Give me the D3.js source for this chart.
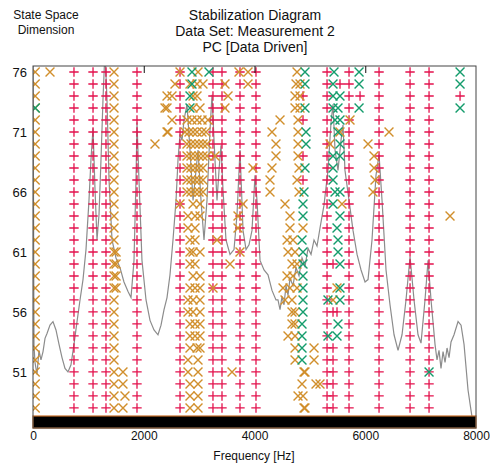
<!DOCTYPE html>
<html>
<head>
<meta charset="utf-8">
<script src="https://cdn.jsdelivr.net/npm/d3@7"></script>
<style>
  body { margin: 0; background: #fff; }
  text { font-family: "Liberation Sans", Arial, sans-serif; fill: #111; }
</style>
</head>
<body>
<div id="chart"></div>
<script>
// model orders shown on the y axis
var orders = [48, 49, 50, 51, 52, 53, 54, 55, 56, 57, 58, 59, 60, 61, 62,
	63, 64, 65, 66, 67, 68, 69, 70, 71, 72, 73, 74, 75, 76]

var xTicks = [0, 2000, 4000, 6000, 8000]
var yTicks = [51, 56, 61, 66, 71, 76]

// frequencies (Hz) where a stable pole (+) shows up at every order
var stableFreqs = [740, 1084, 1318, 1878, 2655, 3250, 3413, 3738, 4027,
	5310, 5707, 6249, 6809, 7152]

// extra stable poles [order, freq]
var extraStable = [
	[48, 5418], [49, 5418], [50, 5418], [51, 5418], [52, 5418], [53, 5418],
	[56, 5418], [56, 5490], [60, 5418], [75, 5544], [74, 5906], [74, 7712],
	[74, 4876], [72, 4876], [69, 4876], [67, 4876]
]

// frequencies where an unstable pole (x, orange) shows up at every order
var unstableFreqs = [40, 1463]

// unstable poles by order [order, [freqs]]
var unstableRows = [
	[76, [307, 2655, 2980, 3720, 3883, 4768]],
	[75, [2564, 2835, 2962, 3070, 3467, 3883, 4750, 4822]],
	[74, [2420, 2510, 2890, 2962, 3522, 4732, 4822]],
	[73, [2384, 2420, 2890, 3016, 3467, 4732, 4822]],
	[72, [2510, 2781, 2871, 2962, 3052, 3160, 4461, 4786, 5725]],
	[71, [2420, 2438, 2745, 2817, 2890, 2962, 3052, 3124, 4316, 4786, 5544, 6429]],
	[70, [2203, 2781, 2853, 2926, 2998, 3070, 3142, 4388, 4786, 5364, 6050]],
	[69, [2781, 2853, 2926, 2998, 3070, 3142, 3287, 4388, 4786, 6158]],
	[68, [2781, 2853, 2926, 2998, 3070, 3973, 4316, 4804, 6158]],
	[67, [2781, 2853, 2926, 2998, 3070, 4280, 4768, 6176]],
	[66, [2781, 2853, 2926, 2998, 3070, 4280, 4804, 6140]],
	[65, [2655, 2890, 3016, 3793, 4551, 5580]],
	[64, [2799, 2926, 3016, 3702, 4641, 7531]],
	[63, [2799, 2926, 3702, 4641, 4876]],
	[62, [2835, 2926, 3323, 4588, 4695]],
	[61, [1500, 2835, 2890, 3016, 3738, 4605, 4732]],
	[60, [1500, 2835, 2926, 3558, 4677, 4768]],
	[59, [1500, 2890, 3016, 4587, 4695]],
	[58, [1500, 2835, 2926, 3016, 3251, 4515, 4641, 4768, 5490]],
	[57, [2799, 2890, 3016, 4551, 4677, 5418]],
	[56, [2799, 2890, 3016, 4677, 4732]],
	[55, [2835, 2926, 3016, 4677, 4732]],
	[54, [2835, 2926, 3016, 4605, 4732]],
	[53, [2835, 2962, 3016, 4732, 5075]],
	[52, [2799, 2980, 4732, 5075]],
	[51, [1625, 2799, 2980, 3594, 4894, 4912]],
	[50, [1625, 2835, 2980, 4858, 5111, 5183]],
	[49, [1661, 2835, 2980, 4786, 4876]],
	[48, [1625, 2835, 2980, 4894, 4912]]
]

// poles stable in frequency and damping (x, green)
var dampedRows = [
	[76, [2871, 3178, 4912, 5436, 5888, 7712]],
	[75, [2871, 4912, 5418, 5888, 7712]],
	[74, [2835, 5418, 5544]],
	[73, [40, 2835, 4912, 5418, 5508, 5888, 7712]],
	[72, [5454, 5544]],
	[71, [4930, 5508]],
	[70, [4930, 5544]],
	[69, [5418, 5544]],
	[68, [4912, 5418]],
	[67, [5418]],
	[66, [4894, 5454, 5544]],
	[65, [4876, 5418]],
	[64, [4876, 5544]],
	[63, [5490]],
	[62, [4858, 5508]],
	[61, [4876, 5508]],
	[60, [4876, 5544]],
	[59, [4876]],
	[58, [4876, 5544]],
	[57, [4876, 5327, 5544]],
	[56, [4876]],
	[55, [4858, 5508]],
	[54, [4858, 5327, 5490]],
	[53, [4858]],
	[52, [4858]],
	[51, [7152]]
]

// averaged spectrum, frequency (Hz) and level on the order scale
var specFreq = [0, 18, 36, 72, 108, 144, 181, 217, 253, 307, 361, 415, 470, 524, 578,
	632, 686, 740, 795, 849, 903, 957, 1011, 1047, 1084, 1120, 1156, 1192, 1228,
	1264, 1300, 1336, 1373, 1427, 1499, 1571, 1643, 1716, 1770, 1824, 1860, 1878,
	1914, 1968, 2041, 2113, 2185, 2257, 2312, 2366, 2420, 2474, 2528, 2583, 2619,
	2655, 2691, 2727, 2781, 2835, 2890, 2944, 2980, 3034, 3088, 3142, 3197, 3233,
	3269, 3323, 3359, 3395, 3431, 3485, 3558, 3630, 3684, 3738, 3793, 3847, 3901,
	3955, 4009, 4045, 4100, 4172, 4244, 4316, 4388, 4424, 4461, 4497, 4533, 4569,
	4605, 4641, 4695, 4750, 4804, 4858, 4912, 4967, 5021, 5075, 5129, 5183, 5255,
	5327, 5382, 5418, 5454, 5508, 5562, 5598,
	5634, 5707, 5779, 5852, 5924, 5996, 6050, 6122, 6194, 6249, 6303, 6375, 6447,
	6520, 6592, 6664, 6736, 6809, 6881, 6953, 7007, 7079, 7134, 7188, 7260, 7296,
	7332, 7368, 7405, 7441, 7477, 7513, 7549, 7603, 7676, 7730, 7784, 7856, 7910, 7964]
var specLevel = [78.0, 53.2, 51.8, 50.8, 52.8, 52.0, 52.7, 53.8, 54.2, 54.9, 55.2, 54.5,
	53.3, 52.2, 51.3, 51.0, 51.6, 53.3, 55.2, 57.0, 58.7, 61.2, 65.3, 68.7, 71.3,
	66.2, 62.0, 64.1, 68.7, 73.7, 77.8, 73.7, 67.0, 62.0, 60.5, 59.7, 58.5, 57.7,
	57.2, 60.3, 67.0, 71.8, 67.0, 60.3, 57.0, 55.3, 54.5, 54.1, 54.9, 56.2, 57.2,
	59.1, 62.0, 65.3, 68.7, 70.8, 70.3, 72.0, 73.3, 69.5, 65.3, 67.8, 69.5, 65.3,
	62.0, 65.3, 71.2, 74.1, 70.3, 65.3, 67.8, 69.9, 66.2, 62.0, 60.8, 61.2, 64.1,
	69.5, 62.8, 61.2, 61.6, 62.8, 67.4, 65.3, 60.3, 59.5, 59.1, 57.8, 57.0, 57.0,
	56.2, 57.3, 56.6, 58.2, 57.4, 58.8, 58.2, 59.7, 59.0, 60.5, 59.8, 61.3, 60.8,
	62.0, 61.5, 63.0, 64.9, 67.8, 71.8, 73.3,
	69.5, 67.8, 70.3, 71.6, 67.8, 65.3, 62.8, 60.8, 59.5, 58.5, 58.7, 62.0, 67.4,
	69.1, 65.3, 59.5, 56.6, 54.1, 52.8, 54.1, 57.0, 60.6, 57.0, 54.1, 53.4, 57.0,
	60.3, 57.0, 53.3, 52.0, 52.8, 51.3, 52.7, 51.8, 53.0, 52.2, 53.5, 54.1, 55.2,
	54.9, 53.3, 49.5, 47.8, 46.2]

function drawChart() {
	var width = 490,
		height = 466
	var pLeft = 33, pRight = 476, pTop = 66, pBottom = 428

	var svg = d3.select('#chart').append('svg')
		.attr('width', width)
		.attr('height', height)

	var x = d3.scaleLinear()
		.domain([0, 8000])
		.range([pLeft, pRight])

	var y = d3.scaleLinear()
		.domain([46.33, 76.5])
		.range([pBottom, pTop])

	svg.append('clipPath').attr('id', 'plot')
		.append('rect')
		.attr('x', pLeft).attr('y', pTop)
		.attr('width', pRight - pLeft).attr('height', pBottom - pTop)

	// spectrum
	var line = d3.line()
		.x(function (d) { return x(d[0]) })
		.y(function (d) { return y(d[1]) })

	svg.append('path')
		.datum(specFreq.map(function (f, i) { return [f, specLevel[i]] }))
		.attr('clip-path', 'url(#plot)')
		.attr('fill', 'none')
		.attr('stroke', '#8c8c8c')
		.attr('stroke-width', 1.2)
		.attr('d', line)

	// build marker lists
	var plusPts = []
	stableFreqs.forEach(function (f) {
		orders.forEach(function (o) { plusPts.push([f, o]) })
	})
	extraStable.forEach(function (d) { plusPts.push([d[1], d[0]]) })

	var orangePts = []
	unstableFreqs.forEach(function (f) {
		orders.forEach(function (o) { orangePts.push([f, o]) })
	})
	unstableRows.forEach(function (r) {
		r[1].forEach(function (f) { orangePts.push([f, r[0]]) })
	})

	var greenPts = []
	dampedRows.forEach(function (r) {
		r[1].forEach(function (f) { greenPts.push([f, r[0]]) })
	})

	var s = 4.7
	function plusPath(d) {
		var cx = x(d[0]), cy = y(d[1])
		return 'M' + (cx - s) + ',' + cy + 'H' + (cx + s) +
			'M' + cx + ',' + (cy - s) + 'V' + (cy + s)
	}
	function crossPath(d) {
		var cx = x(d[0]), cy = y(d[1]), r = s * 0.95
		return 'M' + (cx - r) + ',' + (cy - r) + 'L' + (cx + r) + ',' + (cy + r) +
			'M' + (cx - r) + ',' + (cy + r) + 'L' + (cx + r) + ',' + (cy - r)
	}

	var marks = svg.append('g').attr('clip-path', 'url(#plot)')

	marks.selectAll('.stab').data(plusPts)
		.enter().append('path')
		.attr('class', 'stab')
		.attr('d', plusPath)
		.attr('stroke', '#e3124d')
		.attr('stroke-width', 1.3)

	marks.selectAll('.unst').data(orangePts)
		.enter().append('path')
		.attr('class', 'unst')
		.attr('d', crossPath)
		.attr('stroke', '#d18f2c')
		.attr('stroke-width', 1.4)

	marks.selectAll('.damp').data(greenPts)
		.enter().append('path')
		.attr('class', 'damp')
		.attr('d', crossPath)
		.attr('stroke', '#149c6c')
		.attr('stroke-width', 1.4)

	// black band along the bottom
	svg.append('rect')
		.attr('x', pLeft)
		.attr('y', y(47.33))
		.attr('width', pRight - pLeft)
		.attr('height', pBottom - y(47.33))
		.attr('fill', '#000')
		.attr('stroke', '#c8702a')
		.attr('stroke-width', 1.2)

	// frame
	svg.append('rect')
		.attr('x', pLeft).attr('y', pTop)
		.attr('width', pRight - pLeft).attr('height', pBottom - pTop)
		.attr('fill', 'none')
		.attr('stroke', '#444')
		.attr('stroke-width', 1)

	svg.append('g')
		.attr('transform', 'translate(0,' + pTop + ')')
		.call(d3.axisTop(x).tickValues([2000, 4000, 6000]).tickSize(-7).tickFormat(''))
		.call(function (g) { g.select('.domain').remove() })
		.selectAll('line').attr('stroke', '#111')

	var xAxis = svg.append('g')
		.attr('transform', 'translate(0,' + pBottom + ')')
		.call(d3.axisBottom(x).tickValues(xTicks).tickSize(0).tickPadding(3)
			.tickFormat(d3.format('d')))
	xAxis.select('.domain').remove()
	xAxis.selectAll('text').style('font-size', '12px')

	var yAxis = svg.append('g')
		.attr('transform', 'translate(' + pLeft + ',0)')
		.call(d3.axisLeft(y).tickValues(yTicks).tickSize(0).tickPadding(6))
	yAxis.select('.domain').remove()
	yAxis.selectAll('text').style('font-size', '13px')

	// titles
	var title = ['Stabilization Diagram', 'Data Set: Measurement 2', 'PC [Data Driven]']
	svg.selectAll('.title').data(title)
		.enter().append('text')
		.attr('class', 'title')
		.attr('x', 255)
		.attr('y', function (d, i) { return 20 + i * 16 })
		.attr('text-anchor', 'middle')
		.style('font-size', '14px')
		.text(function (d) { return d })

	svg.selectAll('.ylab').data(['State Space', 'Dimension'])
		.enter().append('text')
		.attr('class', 'ylab')
		.attr('x', 46)
		.attr('y', function (d, i) { return 19 + i * 15 })
		.attr('text-anchor', 'middle')
		.style('font-size', '12px')
		.text(function (d) { return d })

	svg.append('text')
		.attr('x', 254)
		.attr('y', 460)
		.attr('text-anchor', 'middle')
		.style('font-size', '12px')
		.text('Frequency [Hz]')
}

drawChart()
</script>
</body>
</html>
